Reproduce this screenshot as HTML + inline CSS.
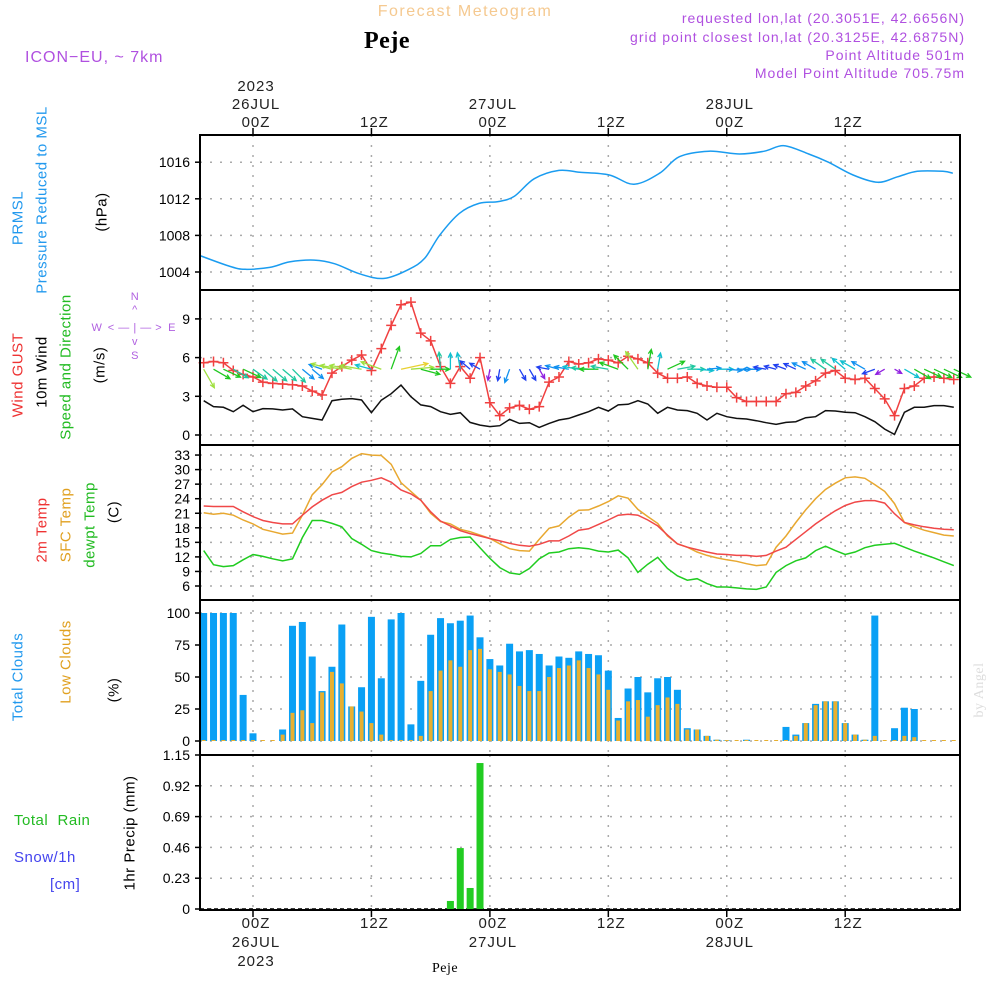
<!DOCTYPE html>
<html><head><meta charset="utf-8"><style>
body{margin:0;background:#fff}
svg{display:block;font-family:"Liberation Sans",sans-serif}
</style></head><body>
<svg id="chart" width="1000" height="1000" viewBox="0 0 1000 1000" xmlns="http://www.w3.org/2000/svg">
<rect width="1000" height="1000" fill="#fff"/>
<g id="grid"></g>
<g id="marks"></g>
<g id="frame"></g>
<g id="labels" font-size="14" letter-spacing="0.5">
 <text x="465" y="16" text-anchor="middle" fill="#f5c990" font-size="16" letter-spacing="1.5">Forecast Meteogram</text>
 <text x="387" y="48" text-anchor="middle" fill="#000" font-family="Liberation Serif,serif" font-weight="bold" font-size="24">Peje</text>
 <text x="25" y="62" fill="#b050e0" font-size="16" letter-spacing="1">ICON−EU, ~ 7km</text>
 <g fill="#b050e0" font-size="14" text-anchor="end" letter-spacing="1">
  <text x="965" y="23">requested lon,lat (20.3051E, 42.6656N)</text>
  <text x="965" y="42">grid point closest lon,lat (20.3125E, 42.6875N)</text>
  <text x="965" y="60">Point Altitude 501m</text>
  <text x="965" y="78">Model Point Altitude 705.75m</text>
 </g>
 <text transform="translate(983,690) rotate(-90)" text-anchor="middle" fill="#ddd" font-family="Liberation Serif,serif" font-size="14">by Angel</text>
 <g font-size="15" text-anchor="middle" dominant-baseline="central">
  <text transform="translate(18,218) rotate(-90)" fill="#2299ee">PRMSL</text>
  <text transform="translate(42,200) rotate(-90)" fill="#2299ee">Pressure Reduced to MSL</text>
  <text transform="translate(102,212) rotate(-90)" fill="#000">(hPa)</text>
  <text transform="translate(18,375) rotate(-90)" fill="#ee3333">Wind GUST</text>
  <text transform="translate(42,372) rotate(-90)" fill="#000">10m Wind</text>
  <text transform="translate(66,367) rotate(-90)" fill="#22bb22">Speed and Direction</text>
  <text transform="translate(100,365) rotate(-90)" fill="#000">(m/s)</text>
  <text transform="translate(42,530) rotate(-90)" fill="#ee3333">2m Temp</text>
  <text transform="translate(66,525) rotate(-90)" fill="#e0a020">SFC Temp</text>
  <text transform="translate(90,525) rotate(-90)" fill="#22bb22">dewpt Temp</text>
  <text transform="translate(114,512) rotate(-90)" fill="#000">(C)</text>
  <text transform="translate(18,677) rotate(-90)" fill="#2299ee">Total Clouds</text>
  <text transform="translate(66,662) rotate(-90)" fill="#e0a020">Low Clouds</text>
  <text transform="translate(114,690) rotate(-90)" fill="#000">(%)</text>
  <text transform="translate(130,833) rotate(-90)" fill="#000">1hr Precip (mm)</text>
 </g>
 <text x="14" y="825" fill="#22bb22" font-size="15" xml:space="preserve">Total  Rain</text>
 <text x="14" y="862" fill="#4444ee" font-size="15">Snow/1h</text>
 <text x="50" y="889" fill="#4444ee" font-size="15">[cm]</text>
 <g fill="#b060e0" font-size="11" text-anchor="middle">
  <text x="97" y="331">W</text><text x="172" y="331">E</text>
  <text x="135" y="300">N</text><text x="135" y="359">S</text>
  <text x="135" y="331">&lt; — | — &gt;</text>
  <text x="135" y="313">^</text><text x="135" y="345">v</text>
 </g>
 <text x="445" y="972" text-anchor="middle" font-family="Liberation Serif,serif" font-size="14">Peje</text>
</g>
</svg>
<script>
const hours = [];
for (let h = -5; h <= 71; h++) hours.push(h);
const pressHours = [-5.4,-2.3,-0.8,1.7,3.7,6.2,8.3,10.8,13.3,15.8,17.4,18.9,20.9,22.9,24.9,26.5,28.5,31.0,33.1,36.1,38.6,41.2,43.2,46.2,49.3,51.8,53.8,56.3,58.3,60.8,63.3,65.3,67.3,69.9,70.9];
const pressure = [1005.8,1004.6,1004.3,1004.5,1005.1,1005.3,1004.9,1003.8,1003.3,1004.3,1005.5,1008.0,1010.4,1011.5,1011.7,1012.3,1014.2,1015.1,1014.9,1014.6,1013.6,1014.8,1016.6,1017.2,1016.9,1017.2,1017.8,1016.9,1016.0,1014.6,1013.8,1014.4,1015.0,1015.0,1014.8];
const gust = [5.6,5.7,5.6,5.0,4.7,4.5,4.1,4.0,3.95,3.9,3.8,3.4,3.1,4.8,5.3,5.8,6.2,5.0,6.7,8.5,10.1,10.3,7.9,7.3,5.3,4.0,5.3,4.4,6.0,2.5,1.5,2.1,2.3,2.0,2.2,4.1,4.5,5.7,5.5,5.6,5.9,5.8,5.6,6.1,5.9,5.6,4.8,4.4,4.4,4.5,4.0,3.8,3.7,3.7,2.9,2.6,2.6,2.6,2.6,3.2,3.3,3.8,4.2,4.8,5.0,4.4,4.3,4.4,3.6,2.8,1.5,3.6,3.8,4.4,4.5,4.4,4.3];
const wind10 = [2.66,2.2,2.15,1.81,2.3,1.81,2.05,2.02,1.94,2.02,1.42,1.29,1.16,2.66,2.77,2.82,2.71,1.73,2.7,3.2,3.87,2.97,2.33,2.2,1.81,1.6,1.73,0.98,0.77,0.65,0.72,1.21,0.9,0.95,0.59,0.9,1.16,1.29,1.55,1.81,2.15,1.86,2.33,2.38,2.66,2.4,1.68,2.15,1.94,1.89,1.68,1.16,1.68,1.42,1.29,1.24,1.11,0.95,0.82,0.98,1.03,1.34,1.42,1.89,1.86,1.76,1.73,1.42,1.03,0.46,0.05,1.76,2.15,2.15,2.28,2.28,2.15];
const windDir = [-60,-30,-25,-30,-25,-35,-40,-40,-40,-45,-40,-40,160,165,170,170,170,165,160,70,12,5,-15,0,95,90,100,140,150,-100,-100,-110,-60,-60,-60,170,165,170,170,175,180,170,160,135,125,80,80,25,10,0,-5,5,0,-5,0,0,180,170,165,160,155,155,150,145,145,140,150,150,200,210,-30,-30,-30,-25,-25,-25,-25];
const t2m = [22.5,22.4,22.4,22.4,21.3,20.3,19.5,19.1,18.8,18.8,20.6,22.3,23.7,24.8,25.3,26.5,27.4,27.8,28.3,27.4,25.8,25.0,23.7,21.3,19.4,18.4,17.4,16.8,16.3,15.8,15.3,14.8,14.4,14.2,14.6,15.3,15.3,16.3,17.5,17.8,18.7,19.6,20.6,20.8,20.6,19.6,18.4,16.5,14.7,14.0,13.5,13.0,12.6,12.5,12.3,12.3,12.1,12.3,13.2,14.0,15.6,17.2,18.8,20.2,21.5,22.6,23.3,23.6,23.6,23.1,20.9,19.1,18.6,18.2,17.9,17.7,17.6];
const tsfc = [21.1,20.8,21.0,20.6,19.6,18.8,17.7,17.2,16.7,16.9,20.6,24.8,26.9,29.5,30.6,32.3,33.3,33.0,32.9,31.1,27.3,25.5,23.7,21.0,19.3,18.8,17.7,17.2,16.5,15.8,14.7,13.7,13.3,13.2,15.6,17.9,18.4,20.2,21.6,21.7,22.5,23.4,24.6,24.1,21.8,20.3,18.9,16.3,14.7,14.0,13.0,12.3,11.8,11.4,11.1,10.6,10.2,10.4,14.0,16.3,19.1,21.7,24.0,25.9,27.2,28.3,28.5,28.2,26.9,25.5,23.0,19.1,18.2,17.5,17.0,16.5,16.3];
const tdew = [13.3,10.4,10.0,10.2,11.4,12.5,12.1,11.6,11.2,11.6,16.0,19.5,19.5,18.9,18.2,15.8,14.6,13.3,12.8,12.5,12.1,12.0,12.7,14.3,14.3,15.6,16.0,16.1,13.9,11.7,9.8,8.7,8.4,9.6,11.6,12.8,13.0,13.7,13.9,13.7,13.2,13.0,13.4,11.8,8.8,10.5,11.9,9.6,8.1,7.2,7.5,6.5,5.8,5.8,5.6,5.4,5.3,5.8,8.8,10.2,11.2,11.8,13.3,14.2,13.3,12.5,13.0,13.9,14.4,14.6,14.8,14.0,13.2,12.5,11.8,11.0,10.2];
const cloudTotal = [100,100,100,100,36,6,0,0,9,90,93,66,39,58,91,27,42,97,49,95,100,13,47,83,96,92,94,98,81,64,59,76,70,71,68,59,66,65,70,68,67,55,18,41,50,38,49,50,40,10,9,4,1,0.5,0,1,0,0,0,11,5,14,29,31,31,14,5,1,98,0,10,26,25,0,0,0,0];
const cloudLow = [0,0,0,0,0,0,0,0,5,22,24,14,38,54,45,27,23,14,5,0,0,0,4,39,55,63,58,71,72,56,54,52,43,39,39,50,57,59,63,57,52,40,16,31,32,19,28,34,29,9,9,4,1,0,0,0,0,0,0,0,4,14,28,31,31,14,5,1,4,0,0,4,3,0,0,0,0];
const precipHours = [20,21,22,23];
const precip = [0.06,0.455,0.157,1.09];
const pTicks = [1004,1008,1012,1016];
const wTicks = [0,3,6,9];
const tTicks = [6,9,12,15,18,21,24,27,30,33];
const cTicks = [0,25,50,75,100];
const rTicks = [0,0.23,0.46,0.69,0.92,1.15];
const timeTicks = [0,12,24,36,48,60];
const timeLabels = ['00Z','12Z','00Z','12Z','00Z','12Z'];
const dateLabels = {0:'26JUL',24:'27JUL',48:'28JUL'};

const NS='http://www.w3.org/2000/svg';
const X0=200,X1=960;
const x = h => 253 + 9.87*h;
const P = {p:[135,290],w:[290,445],t:[445,600],c:[600,755],r:[755,910]};
const yP = v => 272 - (v-1004)*9.15;
const yW = v => 435 - v*12.9;
const yT = v => 586 - (v-6)*4.85;
const yC = v => 741 - v*1.28;
const yR = v => 909 - v*(154/1.15);
function el(tag, attrs, parent){const e=document.createElementNS(NS,tag);for(const k in attrs)e.setAttribute(k,attrs[k]);parent.appendChild(e);return e;}
const grid=document.getElementById('grid'), marks=document.getElementById('marks'), frame=document.getElementById('frame');

function hgrid(ticks, yf, name){
  ticks.forEach(t=>{
    const l=el('line',{x1:X0,x2:X1,y1:yf(t),y2:yf(t),stroke:'#aaa','stroke-width':1.5,'stroke-dasharray':'2,8'},grid);
    
    
    el('line',{x1:195,x2:X0,y1:yf(t),y2:yf(t),stroke:'#000','stroke-width':1.5},frame);
    const tx=el('text',{x:190,y:yf(t)+5,'text-anchor':'end','font-size':14,fill:'#000'},frame);
    tx.textContent=(name==='precip')?(t===0?'0':t.toFixed(2)):String(t);
    
    
  });
}
hgrid(pTicks,yP,'pressure');hgrid(wTicks,yW,'wind');hgrid(tTicks,yT,'temp');hgrid(cTicks,yC,'cloud');hgrid(rTicks,yR,'precip');
timeTicks.forEach(h=>{
  Object.values(P).forEach(([a,b])=>{
    const l=el('line',{x1:x(h),x2:x(h),y1:a,y2:b,stroke:'#aaa','stroke-width':1.5,'stroke-dasharray':'2,8'},grid);
    
    
  });
});
el('line',{x1:X0,x2:X1,y1:yR(0),y2:yR(0),stroke:'#000','stroke-width':1.5,'stroke-dasharray':'4,3'},grid);

function line(hs, vs, yf, color, name, smooth){
  const pts=vs.map((v,i)=>[x(hs[i]),yf(v)]);
  let d='M'+pts[0][0].toFixed(1)+','+pts[0][1].toFixed(1);
  for(let i=1;i<pts.length;i++){
    if(smooth){
      const p0=pts[Math.max(0,i-2)],p1=pts[i-1],p2=pts[i],p3=pts[Math.min(pts.length-1,i+1)];
      const c1x=p1[0]+(p2[0]-p0[0])/6,c1y=p1[1]+(p2[1]-p0[1])/6;
      const c2x=p2[0]-(p3[0]-p1[0])/6,c2y=p2[1]-(p3[1]-p1[1])/6;
      d+=`C${c1x.toFixed(1)},${c1y.toFixed(1)} ${c2x.toFixed(1)},${c2y.toFixed(1)} ${p2[0].toFixed(1)},${p2[1].toFixed(1)}`;
    } else d+='L'+pts[i][0].toFixed(1)+','+pts[i][1].toFixed(1);
  }
  const p=el('path',{d:d,fill:'none',stroke:color,'stroke-width':1.5},marks);
  
  
}
line(pressHours,pressure,yP,'#1a9cf0','pressure-line',true);

line(hours,wind10,yW,'#111','wind-speed-line');
line(hours,gust,yW,'#f04040','wind-gust-line');
gust.forEach((v,i)=>{
  const cx=x(hours[i]),cy=yW(v);
  const g=el('path',{d:`M${cx-5},${cy}H${cx+5}M${cx},${cy-5}V${cy+5}`,stroke:'#f04040','stroke-width':1.5},marks);
  
  
});
function windColor(s){
  if(s<0.7)return '#9020e0'; if(s<1.1)return '#2040f0'; if(s<1.5)return '#1090f0';
  if(s<1.8)return '#10c0d0'; if(s<2.1)return '#20c8a0'; if(s<2.5)return '#20c820';
  if(s<3.0)return '#a0e040'; if(s<3.6)return '#20c820'; return '#e8d030';
}
wind10.forEach((s,i)=>{
  const a=windDir[i]*Math.PI/180, L=8+5*s;
  const cx=x(hours[i]), cy=yW(5.1);
  const x2=cx+L*Math.cos(a), y2=cy-L*Math.sin(a);
  const hx1=x2-5*Math.cos(a-0.45), hy1=y2+5*Math.sin(a-0.45);
  const hx2=x2-5*Math.cos(a+0.45), hy2=y2+5*Math.sin(a+0.45);
  const ar=el('path',{d:`M${cx},${cy}L${x2},${y2}M${hx1},${hy1}L${x2},${y2}L${hx2},${hy2}`,fill:'none',stroke:windColor(s),'stroke-width':1.3},marks);
  
  
});

line(hours,tsfc,yT,'#e8a830','sfc-temp-line');
line(hours,t2m,yT,'#f04848','2m-temp-line');
line(hours,tdew,yT,'#20cc20','dewpoint-line');

cloudTotal.forEach((v,i)=>{
  const cx=x(hours[i]);
  if(v>0){
    const b=el('rect',{x:cx-3.5,y:yC(v),width:7,height:yC(0)-yC(v),fill:'#0aa0f5'},marks);
    
    
  }
  const lv=cloudLow[i];
  const lb=el('rect',{x:cx-2,y:yC(lv)-(lv>0?0:1),width:4,height:Math.max(1,yC(0)-yC(lv)),fill:'#e8b030'},marks);
  
  
});

precip.forEach((v,i)=>{
  const cx=x(precipHours[i]);
  const b=el('rect',{x:cx-3.5,y:yR(v),width:7,height:yR(0)-yR(v),fill:'#22cc22'},marks);
  
  
});

Object.entries(P).forEach(([k,[a,b]])=>{
  const r=el('rect',{x:X0,y:a,width:X1-X0,height:b-a,fill:'none',stroke:'#000','stroke-width':2},frame);
  
  
});
function lbl(txt,xx,yy,name){
  const t=el('text',{x:xx,y:yy,'text-anchor':'middle','font-size':15,fill:'#222','letter-spacing':1},frame);
  t.textContent=txt;
  
  
}
timeTicks.forEach((h,i)=>{
  el('line',{x1:x(h),x2:x(h),y1:128,y2:135,stroke:'#000','stroke-width':1.5},frame);
  el('line',{x1:x(h),x2:x(h),y1:910,y2:917,stroke:'#000','stroke-width':1.5},frame);
  lbl(timeLabels[i],x(h)+3,127,'top-time-label');
  lbl(timeLabels[i],x(h)+3,928,'bottom-time-label');
  if(dateLabels[h]){
    lbl(dateLabels[h],x(h)+3,109,'top-date-label');
    lbl(dateLabels[h],x(h)+3,947,'bottom-date-label');
  }
  if(h===0){
    lbl('2023',x(h)+3,91,'top-year-label');
    lbl('2023',x(h)+3,966,'bottom-year-label');
  }
});
</script>
</body></html>
